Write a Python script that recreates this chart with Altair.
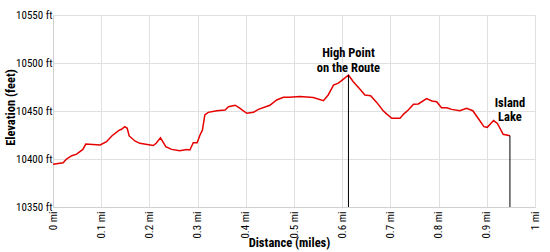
import altair as alt
import pandas as pd

# Elevation profile (miles, feet)
dist = [0.000, 0.021, 0.028, 0.039, 0.049, 0.062, 0.068, 0.098, 0.111, 0.122,
        0.136, 0.142, 0.149, 0.154, 0.158, 0.170, 0.180, 0.208, 0.214, 0.223,
        0.234, 0.246, 0.263, 0.277, 0.284, 0.291, 0.299, 0.305, 0.310, 0.315,
        0.322, 0.340, 0.357, 0.364, 0.378, 0.388, 0.402, 0.416, 0.426, 0.450,
        0.464, 0.478, 0.490, 0.512, 0.540, 0.561, 0.571, 0.582, 0.592, 0.602,
        0.613, 0.623, 0.637, 0.647, 0.659, 0.672, 0.685, 0.692, 0.703, 0.720,
        0.728, 0.737, 0.748, 0.758, 0.775, 0.786, 0.796, 0.806, 0.817, 0.827,
        0.844, 0.858, 0.871, 0.882, 0.894, 0.901, 0.914, 0.922, 0.934, 0.948]
elev = [10394.5, 10396, 10400, 10403.4, 10405, 10410, 10415.6, 10414.6, 10418, 10424,
        10429.5, 10431, 10433.7, 10432, 10424, 10418.8, 10416.3, 10414, 10416.4, 10422,
        10412.8, 10410, 10408.6, 10410, 10409.4, 10417, 10417, 10425, 10430, 10446,
        10448.6, 10450.3, 10451, 10454.5, 10456, 10452.8, 10447.6, 10448.6, 10451.7, 10456,
        10461.5, 10464.2, 10464.2, 10465, 10464, 10460.7, 10466.7, 10477, 10479, 10483,
        10487.5, 10480.5, 10472.6, 10466.7, 10466, 10458.7, 10450.3, 10447, 10442.4, 10442.4,
        10447, 10451, 10457, 10457.3, 10463, 10460.4, 10459.7, 10453.4, 10453.4, 10451.7,
        10450.3, 10452.8, 10450.3, 10442.4, 10433.7, 10433, 10440, 10437, 10425.7, 10424.3]

marker_dist = [0.613, 0.948]
marker_elev = [10487.5, 10424.3]

label_text = ["High Point", "on the Route", "Island", "Lake"]
label_dist = [0.613, 0.613, 0.948, 0.948]
label_elev = [10510.5, 10495.0, 10458.5, 10444.0]

x_ticks = [0, 0.1, 0.2, 0.3, 0.4, 0.5, 0.6, 0.7, 0.8, 0.9, 1]
y_ticks = [10350, 10400, 10450, 10500, 10550]

FONT = "Liberation Sans Narrow, Arial Narrow, Roboto Condensed, Liberation Sans, sans-serif"

profile = pd.DataFrame({"dist": dist, "elev": elev})
markers = pd.DataFrame({"dist": marker_dist, "elev": marker_elev})
labels = pd.DataFrame({"dist": label_dist, "elev": label_elev, "text": label_text})

xscale = alt.Scale(domain=[0, 1], nice=False)
yscale = alt.Scale(domain=[10350, 10550], nice=False, zero=False)

x_axis = alt.Axis(
    values=x_ticks, labelExpr="format(datum.value, '.1~f') + ' mi'",
    labelAngle=-90, labelPadding=4, title="Distance (miles)",
    titleX=236, titleY=35, titleBaseline="middle", titleAnchor="middle",
)
y_axis = alt.Axis(
    values=y_ticks, labelExpr="datum.value + ' ft'", labelPadding=1,
    title="Elevation (feet)", titleX=-43, titleY=92, titleAngle=270,
    titleBaseline="middle", titleAnchor="middle",
)

line = alt.Chart(profile).mark_line(color="#e60000", strokeWidth=1.5).encode(
    x=alt.X("dist:Q", scale=xscale, axis=x_axis),
    y=alt.Y("elev:Q", scale=yscale, axis=y_axis),
)

rules = alt.Chart(markers).mark_rule(color="#000000", strokeWidth=1).encode(
    x=alt.X("dist:Q", scale=xscale),
    y=alt.Y("elev:Q", scale=yscale),
    y2=alt.datum(10350),
)

texts = alt.Chart(labels).mark_text(
    font=FONT, fontWeight="bold", fontSize=12.5, color="#000000",
    align="center", baseline="middle",
).encode(
    x=alt.X("dist:Q", scale=xscale),
    y=alt.Y("elev:Q", scale=yscale),
    text="text:N",
)

chart = alt.layer(line, rules, texts).properties(
    width=482, height=192,
    autosize=alt.AutoSizeParams(type="none"),
    padding={"left": 53, "top": 15, "right": 15, "bottom": 45},
    background="#ffffff",
).configure_view(stroke=None).configure_axis(
    grid=True, gridColor="#e0e0e0", gridWidth=1,
    domainColor="#d0d0d0", ticks=False,
    labelFont=FONT, labelFontSize=11, labelColor="#000000",
    titleFont=FONT, titleFontSize=12.5, titleFontWeight="bold", titleColor="#000000",
)

chart.save("out.html", embed_options={"renderer": "svg", "actions": False})
